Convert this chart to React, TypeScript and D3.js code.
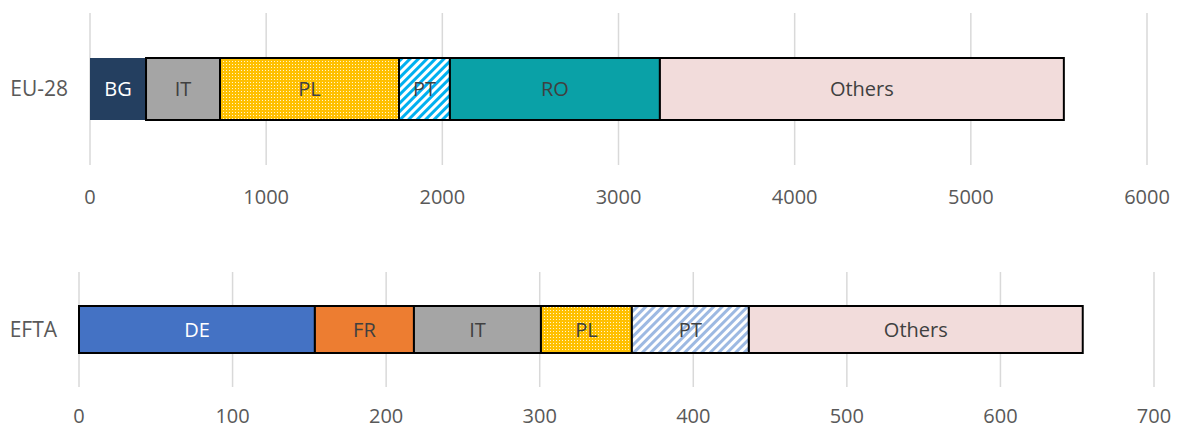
import React from 'react';
import * as d3 from 'd3';

// EU-28 row
const euCountries = ["BG", "IT", "PL", "PT", "RO", "Others"];
const euValues = [318, 420, 1016, 289, 1192, 2293];
const euTicks = [0, 1000, 2000, 3000, 4000, 5000, 6000];

// EFTA row
const eftaCountries = ["DE", "FR", "IT", "PL", "PT", "Others"];
const eftaValues = [153.6, 64.5, 82.7, 59.2, 76.2, 217.4];
const eftaTicks = [0, 100, 200, 300, 400, 500, 600, 700];

const fills: Record<string, string> = {
  BG: "#243F60",
  IT: "#A5A5A5",
  PL: "url(#dotsPL)",
  PT: "url(#stripePT)",
  RO: "#0AA1A7",
  Others: "#F2DCDB",
  DE: "#4472C4",
  FR: "#ED7D31",
};
const eftaFills: Record<string, string> = { ...fills, PT: "url(#stripePT2)" };

const font = "'Open Sans', 'Liberation Sans', sans-serif";

function Row(props: any) {
  const { label, countries, values, ticks, x0, x1, gridTop, gridBottom, barTop, barBottom, tickY, palette, noStroke } = props;

  const x = d3.scaleLinear().domain([ticks[0], ticks[ticks.length - 1]]).range([x0, x1]);

  const ends = d3.cumsum(values);
  const segs = countries.map((c: string, i: number) => ({
    name: c,
    start: i === 0 ? 0 : ends[i - 1],
    end: ends[i],
  }));

  return (
    <g>
      {ticks.map((t: number) => (
        <line key={t} x1={x(t)} x2={x(t)} y1={gridTop} y2={gridBottom} stroke="#D9D9D9" strokeWidth={1.5} />
      ))}
      {ticks.map((t: number) => (
        <text key={"l" + t} x={x(t)} y={tickY} textAnchor="middle" fontSize={20} fill="#595959" fontFamily={font}>
          {t}
        </text>
      ))}
      <text x={x0 - 22} y={(barTop + barBottom) / 2} dy="0.35em" textAnchor="end" fontSize={21} fill="#595959" fontFamily={font}>
        {label}
      </text>
      {segs.map((s: any) => (
        <rect
          key={s.name}
          x={x(s.start)}
          y={barTop}
          width={x(s.end) - x(s.start)}
          height={barBottom - barTop}
          fill={palette[s.name]}
          stroke={noStroke.includes(s.name) ? "none" : "#000"}
          strokeWidth={2}
        />
      ))}
      {segs.map((s: any) => (
        <text
          key={"t" + s.name}
          x={(x(s.start) + x(s.end)) / 2}
          y={(barTop + barBottom) / 2}
          dy="0.35em"
          textAnchor="middle"
          fontSize={20}
          fill={s.name === "BG" || s.name === "DE" ? "#FFFFFF" : "#404040"}
          fontFamily={font}
        >
          {s.name}
        </text>
      ))}
    </g>
  );
}

export default function App() {
  return (
    <svg width={1179} height={429} style={{ position: "absolute", left: 0, top: 0, background: "#fff" }}>
      <defs>
        <pattern id="dotsPL" width={3} height={3} patternUnits="userSpaceOnUse">
          <rect width={3} height={3} fill="#FFC000" />
          <rect x={1} y={1} width={1} height={1} fill="#FFF4CC" />
        </pattern>
        <pattern id="stripePT" width={6} height={6} patternUnits="userSpaceOnUse" patternTransform="rotate(45)">
          <rect width={6} height={6} fill="#FFFFFF" />
          <rect width={3} height={6} fill="#00B0F0" />
        </pattern>
        <pattern id="stripePT2" width={6} height={6} patternUnits="userSpaceOnUse" patternTransform="rotate(45)">
          <rect width={6} height={6} fill="#FFFFFF" />
          <rect width={3} height={6} fill="#9DB9E2" />
        </pattern>
      </defs>
      <Row
        label="EU-28"
        countries={euCountries}
        values={euValues}
        ticks={euTicks}
        x0={90}
        x1={1147}
        gridTop={13}
        gridBottom={165}
        barTop={58}
        barBottom={120}
        tickY={204}
        palette={fills}
        noStroke={["BG"]}
      />
      <Row
        label="EFTA"
        countries={eftaCountries}
        values={eftaValues}
        ticks={eftaTicks}
        x0={79}
        x1={1154}
        gridTop={272}
        gridBottom={387}
        barTop={306}
        barBottom={353}
        tickY={423}
        palette={eftaFills}
        noStroke={[]}
      />
    </svg>
  );
}
